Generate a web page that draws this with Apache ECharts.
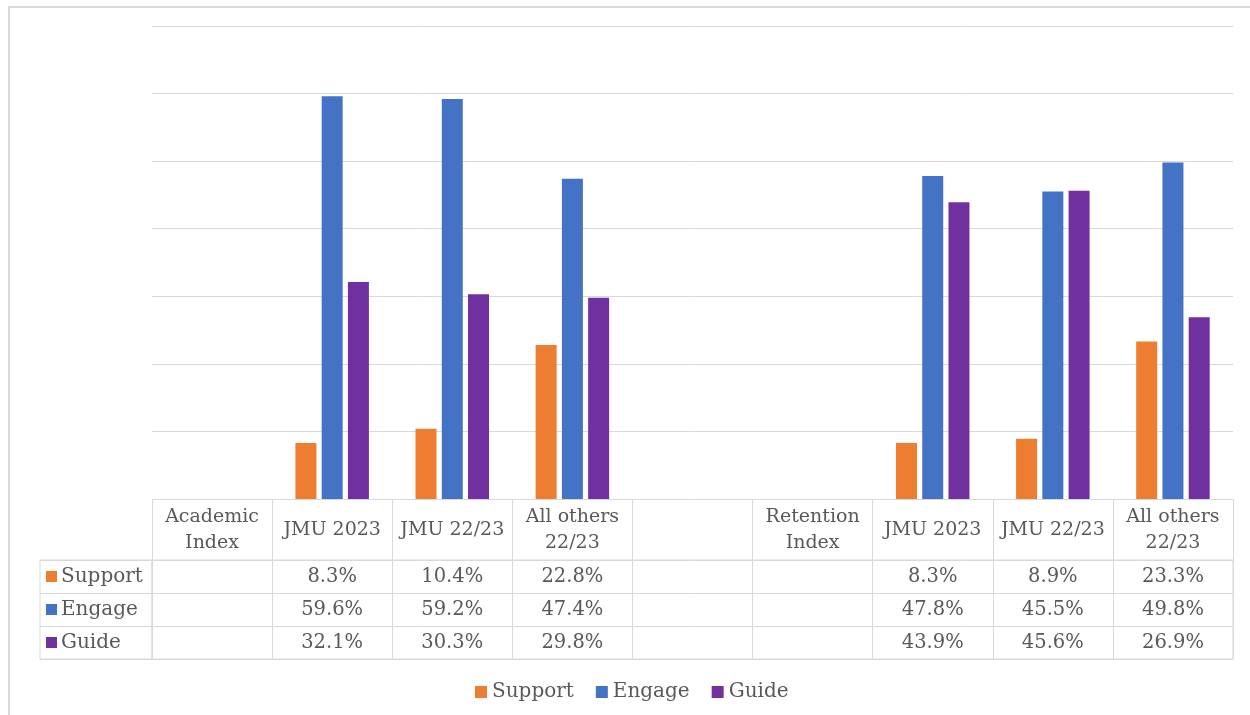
<!DOCTYPE html>
<html>
<head>
<meta charset="utf-8">
<script src="https://cdn.jsdelivr.net/npm/echarts@6/dist/echarts.min.js"></script>
<style>
  html, body { margin: 0; padding: 0; background: #fff; }
  #frame { position: absolute; left: 8px; top: 6px; width: 1300px; height: 800px;
           border-left: 2px solid #d9d9d9; border-top: 2px solid #d9d9d9; }
  #chart { position: absolute; left: 0; top: 0; width: 1250px; height: 715px; }
</style>
</head>
<body>
<div id="frame"></div>
<div id="chart"></div>
<script>
var categories = ['Academic\nIndex', 'JMU 2023', 'JMU 22/23', 'All others\n22/23', '',
                  'Retention\nIndex', 'JMU 2023', 'JMU 22/23', 'All others\n22/23'];
var rowNames = ['Support', 'Engage', 'Guide'];
var support = [null, 8.3, 10.4, 22.8, null, null, 8.3, 8.9, 23.3];
var engage  = [null, 59.6, 59.2, 47.4, null, null, 47.8, 45.5, 49.8];
var guide   = [null, 32.1, 30.3, 29.8, null, null, 43.9, 45.6, 26.9];
var colors = ['#ED7D31', '#4472C4', '#7030A0'];

var font = 'DejaVu Serif';
var textColor = '#595959';
var lineColor = '#d9d9d9';

var rows = [support, engage, guide];

// cells for the data table, one item per non-empty value
function tableData(values, rowIndex) {
  var out = [];
  for (var i = 0; i < values.length; i++) {
    if (values[i] != null) out.push([i, rowIndex, values[i]]);
  }
  return out;
}

function renderCell(params, api) {
  var p = api.coord([api.value(0), api.value(1)]);
  return {
    type: 'text',
    x: p[0],
    y: p[1],
    style: {
      text: api.value(2).toFixed(1) + '%',
      align: 'center',
      verticalAlign: 'middle',
      fill: textColor,
      font: '19.5px "' + font + '"'
    }
  };
}

var rich = {};
rowNames.forEach(function (n, i) {
  rich['sq' + i] = { width: 11, height: 11, backgroundColor: colors[i] };
  rich.t = { fontSize: 20, fontFamily: font, color: textColor, padding: [0, 0, 0, 4] };
});

var series = [];
rows.forEach(function (vals, i) {
  series.push({
    name: rowNames[i],
    type: 'bar',
    xAxisIndex: 0,
    yAxisIndex: 0,
    data: vals,
    itemStyle: { color: colors[i] },
    barWidth: 21,
    barGap: '25%',
    barCategoryGap: '39%'
  });
});
rows.forEach(function (vals, i) {
  series.push({
    type: 'custom',
    xAxisIndex: 1,
    yAxisIndex: 1,
    data: tableData(vals, i),
    encode: { x: 0, y: 1 },
    renderItem: renderCell,
    silent: true
  });
});

var chart = echarts.init(document.getElementById('chart'));
chart.setOption({
  animation: false,
  textStyle: { fontFamily: font },
  legend: {
    data: rowNames,
    left: 470,
    top: 677,
    itemWidth: 12,
    itemHeight: 12,
    itemGap: 22,
    icon: 'rect',
    textStyle: { fontSize: 20, fontFamily: font, color: textColor }
  },
  grid: [
    { left: 152, right: 17, top: 26, bottom: 216 },
    { left: 152, right: 17, top: 560, height: 99, show: true, borderColor: lineColor, borderWidth: 1 },
    { left: 40, width: 112, top: 560, height: 99, show: true, borderColor: lineColor, borderWidth: 1 }
  ],
  xAxis: [
    {
      gridIndex: 0,
      type: 'category',
      data: categories,
      axisLine: { lineStyle: { color: lineColor, width: 1 } },
      axisTick: { show: true, length: 61, lineStyle: { color: lineColor } },
      axisLabel: {
        interval: 0,
        margin: 31,
        verticalAlign: 'middle',
        color: textColor,
        fontSize: 19,
        fontFamily: font,
        lineHeight: 26
      }
    },
    {
      gridIndex: 1,
      type: 'category',
      data: categories,
      axisLine: { show: false },
      axisTick: { show: false },
      axisLabel: { show: false },
      splitLine: { show: true, interval: 0, lineStyle: { color: lineColor } }
    },
    {
      gridIndex: 2,
      type: 'category',
      data: [''],
      axisLine: { show: false },
      axisTick: { show: false },
      axisLabel: { show: false }
    }
  ],
  yAxis: [
    {
      gridIndex: 0,
      type: 'value',
      min: 0,
      max: 70,
      interval: 10,
      axisLabel: { show: false },
      axisLine: { show: false },
      axisTick: { show: false },
      splitLine: { lineStyle: { color: lineColor, width: 1 } }
    },
    {
      gridIndex: 1,
      type: 'category',
      data: rowNames,
      inverse: true,
      axisLine: { show: false },
      axisTick: { show: false },
      axisLabel: { show: false },
      splitLine: { show: true, interval: 0, lineStyle: { color: lineColor } }
    },
    {
      gridIndex: 2,
      type: 'category',
      data: rowNames,
      inverse: true,
      axisLine: { show: false },
      axisTick: { show: false },
      splitLine: { show: true, interval: 0, lineStyle: { color: lineColor } },
      axisLabel: {
        inside: true,
        margin: 6,
        formatter: function (value, idx) {
          return '{sq' + idx + '| }{t|' + value + '}';
        },
        rich: rich
      }
    }
  ],
  series: series
});
</script>
</body>
</html>
